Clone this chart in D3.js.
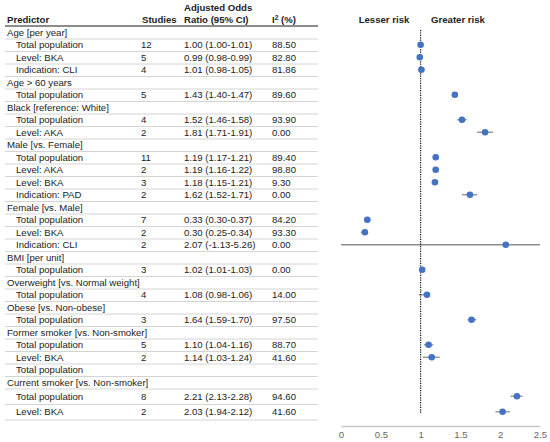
<!DOCTYPE html>
<html>
<head>
<meta charset="utf-8">
<script src="https://cdn.jsdelivr.net/npm/d3@7"></script>
<style>
  body { margin: 0; background: #fff; }
  svg { display: block; font-family: "Liberation Sans", Arial, sans-serif; }
</style>
</head>
<body>
<div id="viz"></div>
<script>
// table rows, top to bottom
var labels = ['Age [per year]', 'Total population', 'Level: BKA', 'Indication: CLI',
  'Age > 60 years', 'Total population',
  'Black [reference: White]', 'Total population', 'Level: AKA',
  'Male [vs. Female]', 'Total population', 'Level: AKA', 'Level: BKA', 'Indication: PAD',
  'Female [vs. Male]', 'Total population', 'Level: BKA', 'Indication: CLI',
  'BMI [per unit]', 'Total population',
  'Overweight [vs. Normal weight]', 'Total population',
  'Obese [vs. Non-obese]', 'Total population',
  'Former smoker [vs. Non-smoker]', 'Total population', 'Level: BKA', 'Total population',
  'Current smoker [vs. Non-smoker]', 'Total population', 'Level: BKA'];
var subRow = [0,1,1,1, 0,1, 0,1,1, 0,1,1,1,1, 0,1,1,1, 0,1, 0,1, 0,1, 0,1,1,1, 0,1,1];
var studies = [null,12,5,4, null,5, null,4,2, null,11,2,3,2, null,7,2,2, null,3, null,4, null,3, null,5,2,null, null,8,2];
var oddsRatio = [null,1.00,0.99,1.01, null,1.43, null,1.52,1.81, null,1.19,1.19,1.18,1.62,
  null,0.33,0.30,2.07, null,1.02, null,1.08, null,1.64, null,1.10,1.14,null, null,2.21,2.03];
var ciLow = [null,1.00,0.98,0.98, null,1.40, null,1.46,1.71, null,1.17,1.16,1.15,1.52,
  null,0.30,0.25,-1.13, null,1.01, null,0.98, null,1.59, null,1.04,1.03,null, null,2.13,1.94];
var ciHigh = [null,1.01,0.99,1.05, null,1.47, null,1.58,1.91, null,1.21,1.22,1.21,1.71,
  null,0.37,0.34,5.26, null,1.03, null,1.06, null,1.70, null,1.16,1.24,null, null,2.28,2.12];
var iSquared = [null,88.50,82.80,81.86, null,89.60, null,93.90,0.00, null,89.40,98.80,9.30,0.00,
  null,84.20,93.30,0.00, null,0.00, null,14.00, null,97.50, null,88.70,41.60,null, null,94.60,41.60];
var tickValues = [0, 0.5, 1, 1.5, 2, 2.5];
var tickLabels = ['0', '0.5', '1', '1.5', '2', '2.5'];

var width = 550,
    height = 442,
    tableTop = 26,
    tableLeft = 5,
    tableRight = 318,
    fontSize = 9.6;

var rows = labels.map(function(d, i){
  return {label: d, sub: subRow[i], n: studies[i], or: oddsRatio[i],
          lo: ciLow[i], hi: ciHigh[i], i2: iSquared[i]};
});

// row heights (last two rows are a bit taller in the original)
var y0 = tableTop;
rows.forEach(function(r, i){
  var h = i >= 29 ? 15.5 : 12.5;
  r.top = y0;
  r.mid = y0 + h / 2;
  y0 += h;
  r.bottom = y0;
});

var xScale = d3.scaleLinear()
  .domain([0, 2.5])
  .range([341, 540])
  .clamp(true);

var svg = d3.select('#viz').append('svg')
  .attr('width', width)
  .attr('height', height)
  .style('background', '#fff');

// header
var head = svg.append('g')
  .style('font-weight', 'bold')
  .style('font-size', fontSize + 'px')
  .attr('fill', '#222');
head.append('text').attr('x', 7).attr('y', 23).text('Predictor');
head.append('text').attr('x', 142).attr('y', 23).text('Studies');
head.append('text').attr('x', 184).attr('y', 10.5).text('Adjusted Odds');
head.append('text').attr('x', 184).attr('y', 23).text('Ratio (95% CI)');
var i2head = head.append('text').attr('x', 272).attr('y', 23);
i2head.append('tspan').text('I');
i2head.append('tspan').attr('dy', -3.5).style('font-size', '6.5px').text('2');
i2head.append('tspan').attr('dy', 3.5).text(' (%)');

// row lines
svg.append('g').selectAll('line').data(rows)
  .enter().append('line')
  .attr('x1', tableLeft).attr('x2', tableRight)
  .attr('y1', function(d){ return d.bottom + 0.5; })
  .attr('y2', function(d){ return d.bottom + 0.5; })
  .attr('stroke', '#d4d4d4')
  .attr('stroke-width', 1);

svg.append('line')
  .attr('x1', tableLeft).attr('x2', tableRight)
  .attr('y1', tableTop).attr('y2', tableTop)
  .attr('stroke', '#666')
  .attr('stroke-width', 1.5);

// row text
var rowG = svg.append('g').selectAll('g').data(rows)
  .enter().append('g')
  .attr('transform', function(d){ return 'translate(0,' + d.mid + ')'; })
  .style('font-size', fontSize + 'px')
  .attr('fill', '#222');

rowG.append('text')
  .attr('x', function(d){ return d.sub ? 16 : 7; })
  .attr('dy', '0.35em')
  .text(function(d){ return d.label; });

rowG.filter(function(d){ return d.n != null; }).append('text')
  .attr('x', 141).attr('dy', '0.35em')
  .text(function(d){ return d.n; });

rowG.filter(function(d){ return d.or != null; }).append('text')
  .attr('x', 184).attr('dy', '0.35em')
  .text(function(d){
    return d.or.toFixed(2) + ' (' + d.lo.toFixed(2) + '-' + d.hi.toFixed(2) + ')';
  });

rowG.filter(function(d){ return d.i2 != null; }).append('text')
  .attr('x', 272).attr('dy', '0.35em')
  .text(function(d){ return d.i2.toFixed(2); });

// forest plot
svg.append('text')
  .attr('x', 384).attr('y', 23)
  .attr('text-anchor', 'middle')
  .style('font-weight', 'bold')
  .style('font-size', '9.6px')
  .attr('fill', '#222')
  .text('Lesser risk');
svg.append('text')
  .attr('x', 458).attr('y', 23)
  .attr('text-anchor', 'middle')
  .style('font-weight', 'bold')
  .style('font-size', '9.6px')
  .attr('fill', '#222')
  .text('Greater risk');

var axisY = 426;
var axis = svg.append('g')
  .attr('transform', 'translate(0,' + axisY + ')')
  .call(d3.axisBottom(xScale)
    .tickValues(tickValues)
    .tickSize(0)
    .tickPadding(5)
    .tickFormat(function(d, i){ return tickLabels[i]; }));
axis.select('.domain').attr('stroke', '#c8c8c8').attr('stroke-width', 1.3);
axis.selectAll('text')
  .attr('fill', '#666')
  .style('font-size', '9.6px')
  .style('font-family', '"Liberation Sans", Arial, sans-serif');

var pts = rows.filter(function(d){ return d.or != null; });

svg.append('g').selectAll('line').data(pts)
  .enter().append('line')
  .attr('x1', function(d){ return xScale(d.lo); })
  .attr('x2', function(d){ return xScale(d.hi); })
  .attr('y1', function(d){ return d.mid; })
  .attr('y2', function(d){ return d.mid; })
  .attr('stroke', '#8c8c8c')
  .attr('stroke-width', 1.3);

svg.append('line')
  .attr('x1', xScale(1)).attr('x2', xScale(1))
  .attr('y1', 30).attr('y2', rows[rows.length - 1].mid + 1)
  .attr('stroke', '#111')
  .attr('stroke-width', 1.2)
  .attr('stroke-dasharray', '1.2,1.2');

svg.append('g').selectAll('circle').data(pts)
  .enter().append('circle')
  .attr('cx', function(d){ return xScale(d.or); })
  .attr('cy', function(d){ return d.mid; })
  .attr('r', 3.3)
  .attr('fill', '#4472C4');
</script>
</body>
</html>
